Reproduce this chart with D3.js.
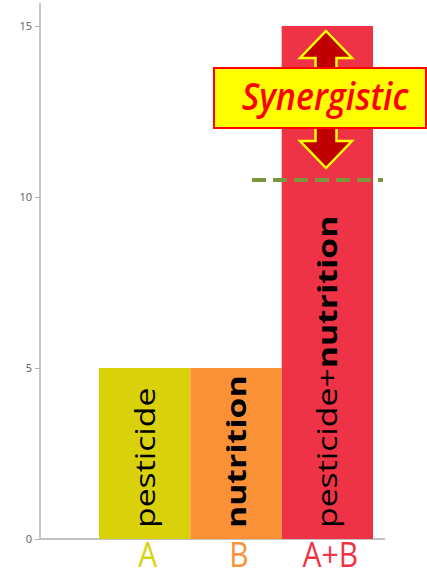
<!DOCTYPE html>
<html><head><meta charset="utf-8">
<script src="https://cdn.jsdelivr.net/npm/d3@7"></script>
<style>body{margin:0;background:#fff}svg{display:block}</style>
</head><body>
<script>
const categories = ["A", "B", "A+B"];
const values = [5, 5, 15];
const barLabelsNormal = ["pesticide", "", "pesticide+"];
const barLabelsBold = ["", "nutrition", "nutrition"];
const colors = ["#D9D10A", "#FB9136", "#EF3347"];
const yTicks = [0, 5, 10, 15];
const expectedAdditive = 10.5;
const annotation = "Synergistic";

(function () {
const W = 427, H = 577;
const svg = d3.select("body").append("svg").attr("width", W).attr("height", H);
const font = "'Open Sans', 'DejaVu Sans', sans-serif";
const sy = 1.25;

const y = d3.scaleLinear().domain([0, 15]).range([539, 26]);
const x = d3.scaleBand().domain(categories).range([99, 373]).padding(0);

svg.append("line").attr("x1", 40).attr("x2", 40).attr("y1", 3).attr("y2", y(0))
  .attr("stroke", "#c8c8c8").attr("stroke-width", 2);
svg.append("line").attr("x1", 40).attr("x2", 385).attr("y1", y(0)).attr("y2", y(0))
  .attr("stroke", "#c0c0c0").attr("stroke-width", 2);

const yAxis = d3.axisLeft(y).tickValues(yTicks).tickSize(5).tickPadding(3);
const ga = svg.append("g").attr("transform", "translate(40,0)").call(yAxis);
ga.select(".domain").remove();
ga.selectAll(".tick line").attr("stroke", "#b0b0b0");
ga.selectAll(".tick text").attr("fill", "#5a5a5a").style("font-family", font).style("font-size", "11px");

svg.selectAll("rect.bar").data(values).enter().append("rect").attr("class", "bar")
  .attr("x", (d, i) => x(categories[i]))
  .attr("width", x.bandwidth())
  .attr("y", d => y(d))
  .attr("height", d => y(0) - y(d))
  .attr("fill", (d, i) => colors[i]);

categories.forEach((c, i) => {
  const cx = x(c) + x.bandwidth() / 2 + 10;
  const t = svg.append("text")
    .attr("transform", `translate(${cx},${528}) scale(1,${sy}) rotate(-90)`)
    .style("font-family", font).style("font-size", "27px").attr("fill", "#000");
  if (barLabelsNormal[i]) t.append("tspan").text(barLabelsNormal[i]);
  if (barLabelsBold[i]) t.append("tspan").attr("font-weight", "bold").text(barLabelsBold[i]);
});

categories.forEach((c, i) => {
  svg.append("text")
    .attr("transform", `translate(${x(c) + x.bandwidth() / 2 + 3},${567}) scale(1,1.15)`)
    .attr("text-anchor", "middle")
    .style("font-family", font).style("font-size", "30px")
    .attr("fill", colors[i]).text(c);
});

svg.append("line").attr("x1", 252).attr("x2", 383)
  .attr("y1", y(expectedAdditive)).attr("y2", y(expectedAdditive))
  .attr("stroke", "#7A963E").attr("stroke-width", 4).attr("stroke-dasharray", "14,7");

const ax = 326, aTop = 31, aBot = 168, hw = 26, sw = 10.5, hh = 27;
const arrow = [
  [ax, aTop], [ax + hw, aTop + hh], [ax + sw, aTop + hh], [ax + sw, aBot - hh], [ax + hw, aBot - hh],
  [ax, aBot], [ax - hw, aBot - hh], [ax - sw, aBot - hh], [ax - sw, aTop + hh], [ax - hw, aTop + hh]
];
svg.append("path").attr("d", d3.line()(arrow) + "Z")
  .attr("fill", "#C00000").attr("stroke", "#FFFF00").attr("stroke-width", 2.5).attr("stroke-linejoin", "miter");

svg.append("rect").attr("x", 214).attr("y", 68).attr("width", 212).attr("height", 60)
  .attr("fill", "#FFFF00").attr("stroke", "#FF0000").attr("stroke-width", 2);
svg.append("text")
  .attr("transform", `translate(325,110) scale(1,1.1)`)
  .attr("text-anchor", "middle")
  .style("font-family", font).style("font-size", "34px").style("font-style", "italic").style("font-weight", "600")
  .attr("fill", "#FF0000").text(annotation);
})();
</script>
</body></html>
